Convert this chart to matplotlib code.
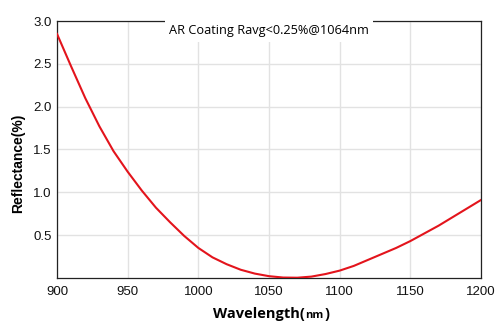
#!/usr/bin/env python3
"""AR coating reflectance curve, 900-1200 nm."""

import matplotlib.pyplot as plt

WAVELENGTH = [900, 910, 920, 930, 940, 950, 960, 970, 980, 990,
              1000, 1010, 1020, 1030, 1040, 1050, 1060, 1070, 1080, 1090,
              1100, 1110, 1120, 1130, 1140, 1150, 1160, 1170, 1180, 1190, 1200]
REFLECTANCE = [2.85, 2.47, 2.10, 1.77, 1.48, 1.24, 1.02, 0.82, 0.65, 0.49,
               0.35, 0.24, 0.16, 0.095, 0.05, 0.02, 0.004, 0.002, 0.015, 0.045,
               0.085, 0.14, 0.21, 0.28, 0.35, 0.43, 0.52, 0.61, 0.71, 0.81, 0.91]
X_TICKS = [900, 950, 1000, 1050, 1100, 1150, 1200]
Y_TICKS = [0.5, 1.0, 1.5, 2.0, 2.5, 3.0]
TITLE = "AR Coating Ravg<0.25%@1064nm"

fig = plt.figure(figsize=(5.0, 3.34), dpi=100)
ax = fig.add_axes([0.114, 0.168, 0.848, 0.769])

ax.plot(WAVELENGTH, REFLECTANCE, color="#e3141c", linewidth=1.5, zorder=3)

ax.set_xlim(900, 1200)
ax.set_ylim(0, 3.0)
ax.set_xticks(X_TICKS)
ax.set_yticks(Y_TICKS)
ax.set_yticklabels([f"{v:.1f}" for v in Y_TICKS])
ax.tick_params(length=0, labelsize=9.5, colors="#111111")
ax.tick_params(axis="x", pad=6)
ax.tick_params(axis="y", pad=4)
for lbl in ax.get_xticklabels() + ax.get_yticklabels():
    lbl.set_fontfamily("Liberation Sans")

ax.grid(True, color="#e2e2e2", linewidth=1.0)
ax.set_axisbelow(True)
for sp in ax.spines.values():
    sp.set_color("#222222")
    sp.set_linewidth(0.9)

ax.set_ylabel("Reflectance(%)", fontsize=10, fontweight="bold",
              family="Liberation Sans")
ax.yaxis.set_label_coords(-0.074, 0.447)

# x label with a smaller "nm"
t1 = fig.text(0.426, 0.048, "Wavelength(", fontsize=10.5, fontweight="bold",
              family="Open Sans", ha="left", va="baseline")
t2 = ax.annotate("nm", xy=(1, 0), xycoords=t1, xytext=(0.5, 0),
                 textcoords="offset points", fontsize=8, fontweight="bold",
                 family="Open Sans", ha="left", va="bottom",
                 annotation_clip=False)
ax.annotate(")", xy=(1, 0), xycoords=t2, xytext=(0.5, 0),
            textcoords="offset points", fontsize=10.5, fontweight="bold",
            family="Open Sans", ha="left", va="bottom",
            annotation_clip=False)

ax.text(0.5, 0.962, TITLE, transform=ax.transAxes, ha="center", va="center",
        fontsize=9.2, family="Open Sans", zorder=5, clip_on=False,
        bbox=dict(facecolor="white", edgecolor="none", pad=3.0))

fig.savefig("out.png", dpi=100, facecolor="white")
plt.close()
